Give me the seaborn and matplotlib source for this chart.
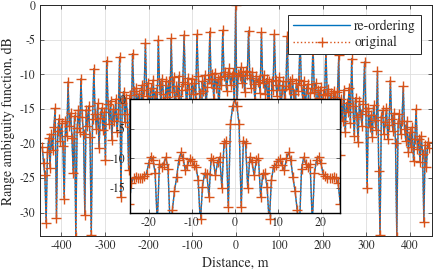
import numpy as np
import pandas as pd
import seaborn as sns
import matplotlib
matplotlib.use("Agg")
import matplotlib.pyplot as plt
from matplotlib import font_manager

# Main range ambiguity function (dB), one row per grating-lobe interval:
# first value is the lobe peak, the next nine are the sidelobes after it
ambiguity_rows_db = [
    [-20.5, -22.8, -24.6, -31.5, -21.3, -19.2, -23.5, -18.7, -21.0, -17.6],
    [-14.9, -30.8, -18.2, -16.4, -19.6, -17.1, -20.3, -28.0, -16.8, -18.9],
    [-11.1, -17.5, -15.6, -19.2, -24.3, -16.0, -33.5, -17.8, -15.2, -18.4],
    [-10.6, -16.2, -18.7, -30.4, -15.1, -17.4, -14.6, -19.0, -33.2, -16.5],
    [-9.2, -15.8, -17.9, -14.2, -20.6, -16.3, -14.9, -18.1, -15.5, -22.4],
    [-8.0, -14.3, -17.2, -13.8, -19.5, -15.0, -16.8, -13.6, -18.3, -15.7],
    [-7.45, -27.8, -14.1, -12.5, -16.9, -13.4, -15.8, -23.9, -13.0, -17.6],
    [-7.0, -12.4, -16.8, -11.9, -14.5, -12.8, -18.2, -11.6, -13.9, -12.2],
    [-5.4, -13.1, -11.2, -15.6, -12.0, -17.3, -10.8, -13.7, -12.5, -16.0],
    [-5.0, -11.5, -14.2, -10.6, -12.9, -16.4, -11.0, -13.3, -10.9, -15.1],
    [-4.8, -12.6, -10.4, -15.8, -11.7, -13.2, -10.2, -17.1, -12.3, -11.1],
    [-4.3, -11.4, -14.8, -10.5, -12.1, -16.2, -10.7, -12.9, -11.3, -13.8],
    [-4.2, -10.3, -12.7, -31.0, -11.0, -12.4, -10.1, -14.6, -11.8, -10.6],
    [-3.8, -11.2, -10.0, -13.5, -9.8, -12.0, -10.7, -15.3, -10.4, -11.6],
    [-3.6, -10.2, -9.7, -12.4, -10.0, -9.1, -11.5, -10.3, -9.8, -14.8],
    [0.0, -14.9, -9.9, -10.3, -9.0, -11.3, -9.7, -12.6, -9.5, -10.1],
    [-3.7, -10.5, -12.0, -9.6, -11.4, -13.9, -10.2, -11.1, -10.8, -12.7],
    [-3.9, -11.3, -10.1, -12.8, -10.6, -14.2, -11.0, -31.0, -10.9, -12.3],
    [-4.2, -10.8, -13.1, -11.5, -10.4, -15.7, -12.2, -10.9, -13.6, -11.7],
    [-4.5, -12.1, -11.0, -14.4, -10.7, -12.8, -16.5, -11.3, -12.4, -10.8],
    [-5.0, -11.6, -13.5, -10.9, -15.2, -12.0, -11.4, -17.0, -12.7, -11.9],
    [-5.7, -12.5, -11.3, -16.1, -12.2, -13.4, -11.8, -14.9, -12.9, -13.0],
    [-6.4, -13.0, -12.1, -15.4, -12.7, -17.8, -12.4, -13.3, -16.2, -12.6],
    [-7.2, -21.7, -13.6, -16.8, -12.2, -18.4, -14.1, -15.5, -11.9, -17.0],
    [-7.7, -14.6, -18.9, -13.4, -16.2, -19.8, -13.9, -15.7, -17.5, -14.3],
    [-8.2, -15.3, -26.5, -14.8, -17.6, -15.9, -19.1, -14.5, -16.6, -18.0],
    [-9.5, -24.0, -33.3, -16.1, -15.2, -18.7, -16.9, -14.9, -19.4, -17.3],
    [-10.9, -16.4, -18.2, -15.6, -19.9, -33.5, -17.1, -15.8, -18.6, -16.7],
    [-11.7, -17.9, -19.6, -16.8, -21.2, -18.4, -20.5, -17.6, -22.6, -19.3],
    [-15.0, -20.8, -19.4, -22.7, -18.9, -21.5, -31.4, -20.2, -23.4, -19.8],
    [-20.6],
]
ambiguity_db = [v for row in ambiguity_rows_db for v in row]
distance_m = np.arange(-150, 151) * 2.96

# Zoomed main lobe (inset), sampled every 0.5 m from -24.5 to 24.5
zoom_distance_m = np.arange(-49, 50) * 0.5
zoom_db = [
    -17.7, -14.2, -13.3, -13.1, -13.3, -13.4, -13.3, -13.0, -12.6, -10.8,
    -9.7, -10.2, -12.5, -21.0, -11.0, -11.5, -10.9, -9.8, -11.8, -22.0,
    -18.8, -15.5, -13.2, -10.3, -9.0, -10.0, -12.0, -11.2, -10.1, -10.4,
    -11.1, -11.4, -13.7, -21.0, -14.8, -12.5, -12.6, -16.5, -10.0, -10.3,
    -12.9, -10.6, -9.8, -15.0, -7.4, -7.0, -18.3, -4.2, -1.2,
    0.0,
    -1.2, -4.2, -18.3, -7.0, -7.4, -15.0, -9.8, -10.6, -12.9,
    -10.3, -10.0, -16.5, -12.6, -12.5, -14.8, -21.0, -13.7, -11.4, -11.1,
    -10.4, -10.1, -11.2, -12.0, -10.0, -9.0, -10.3, -13.2, -15.5, -18.8,
    -22.0, -11.8, -9.8, -10.9, -11.5, -11.0, -21.0, -12.5, -10.2, -9.7,
    -10.8, -12.6, -13.0, -13.3, -13.4, -13.3, -13.1, -13.3, -14.2, -17.7,
]

BLUE = "#0072BD"
ORANGE = "#D95319"
GRID = "#dedede"

sns.set_theme(style="ticks")
# pick a Times-like serif that is actually installed
installed = {f.name for f in font_manager.fontManager.ttflist}
serif = [f for f in ["TeX Gyre Termes", "Tex Gyre Termes", "Liberation Serif",
                     "STIXGeneral", "DejaVu Serif"] if f in installed]
plt.rcParams["font.family"] = "serif"
plt.rcParams["font.serif"] = serif
plt.rcParams["axes.unicode_minus"] = False


def style_axes(ax, frame_color, frame_width):
    """MATLAB-like box: inward ticks on all sides and a light grid."""
    ax.grid(True, color=GRID, linewidth=0.6)
    ax.set_axisbelow(True)
    for spine in ax.spines.values():
        spine.set_color(frame_color)
        spine.set_linewidth(frame_width)
    ax.tick_params(direction="in", length=3, width=0.5, colors="#262626",
                   labelsize=8.5, top=True, right=True, pad=3)


def draw_pair(ax, x, y, label=True):
    sns.lineplot(x=x, y=y, ax=ax, color=BLUE, linewidth=1.0,
                 label="re-ordering" if label else None, legend=False)
    sns.lineplot(x=x, y=y, ax=ax, color=ORANGE, linewidth=1.0,
                 linestyle=":", marker="+", markersize=6.5,
                 label="original" if label else None, legend=False)
    # seaborn gives markers a white edge by default; '+' needs a coloured one
    ax.lines[-1].set_markeredgecolor(ORANGE)
    ax.lines[-1].set_markeredgewidth(1.0)


fig = plt.figure(figsize=(4.36, 2.73), dpi=100)

ax = fig.add_axes([0.091, 0.1355, 0.899, 0.845])
draw_pair(ax, distance_m, ambiguity_db)
ax.set_xlim(-450, 450)
ax.set_ylim(-33.4, 0)
ax.set_xticks(np.arange(-400, 401, 100))
ax.set_yticks(np.arange(-30, 1, 5))
style_axes(ax, "#262626", 0.7)
ax.set_xlabel("Distance, m", fontsize=10, labelpad=3)
ax.set_ylabel("Range ambiguity function, dB", fontsize=10, labelpad=3)
leg = ax.legend(loc="upper right", bbox_to_anchor=(0.973, 0.958),
                borderaxespad=0, fancybox=False, framealpha=1,
                edgecolor="#262626", fontsize=10, handlelength=4.1,
                borderpad=0.35, labelspacing=0.2, handletextpad=0.3)
leg.get_frame().set_linewidth(0.7)

inset = fig.add_axes([0.2975, 0.2187, 0.482, 0.4176])
inset.set_facecolor("white")
draw_pair(inset, zoom_distance_m, zoom_db, label=False)
inset.set_xlim(-24.4, 24.4)
inset.set_ylim(-19.3, 0)
inset.set_xticks(np.arange(-20, 21, 10))
inset.set_yticks(np.arange(-15, 1, 5))
inset.set_xlabel("")
inset.set_ylabel("")
style_axes(inset, "black", 1.0)

fig.savefig("out.png", dpi=100)
